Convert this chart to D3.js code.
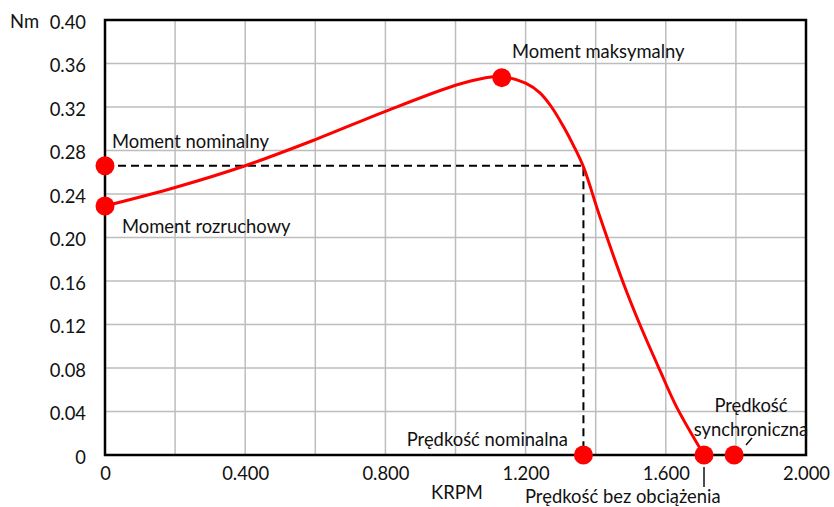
<!DOCTYPE html>
<html><head><meta charset="utf-8">
<script src="https://cdn.jsdelivr.net/npm/d3@7"></script>
<style>
body{margin:0;background:#fff;}
text{font-family:Lato,"Open Sans",sans-serif;fill:#111;}
</style></head>
<body><svg id="c" width="834" height="507"></svg>
<script>
// Torque curve (KRPM, Nm)
const curveX = [0, 0.2, 0.4, 0.6, 0.8, 1.0, 1.08, 1.132, 1.2, 1.241, 1.274, 1.308, 1.336, 1.365, 1.412, 1.479, 1.526, 1.583, 1.631, 1.709];
const curveY = [0.229, 0.246, 0.266, 0.290, 0.316, 0.340, 0.3465, 0.348, 0.342, 0.333, 0.320, 0.302, 0.285, 0.265, 0.219, 0.158, 0.12, 0.078, 0.044, 0];
// Marked points
const pointNames = ["Moment rozruchowy", "Moment nominalny", "Moment maksymalny", "Prędkość nominalna", "Prędkość bez obciążenia", "Prędkość synchroniczna"];
const pointX = [0, 0, 1.132, 1.365, 1.709, 1.795];
const pointY = [0.229, 0.266, 0.347, 0, 0, 0];
// Nominal operating point
const nominalX = 1.365, nominalY = 0.266;
// Axes
const xTicks = [0, 0.4, 0.8, 1.2, 1.6, 2.0];
const xTickLabels = ["0", "0.400", "0.800", "1.200", "1.600", "2.000"];
const xGrid = [0.2, 0.4, 0.6, 0.8, 1.0, 1.2, 1.4, 1.6, 1.8];
const yTicks = [0, 0.04, 0.08, 0.12, 0.16, 0.20, 0.24, 0.28, 0.32, 0.36, 0.40];
const yTickLabels = ["0", "0.04", "0.08", "0.12", "0.16", "0.20", "0.24", "0.28", "0.32", "0.36", "0.40"];
const xTitle = "KRPM", yTitle = "Nm";

const FS = 18.4;
const svg = d3.select("#c");
const L = 105, R = 806, T = 20, B = 455;
const x = d3.scaleLinear().domain([0, 2]).range([L, R]);
const y = d3.scaleLinear().domain([0, 0.4]).range([B, T]);

// grid
svg.append("g").selectAll("line").data(xGrid).join("line")
  .attr("x1", d => x(d)).attr("x2", d => x(d)).attr("y1", T).attr("y2", B)
  .attr("stroke", "#bdbdbd").attr("stroke-width", 1.5);
svg.append("g").selectAll("line").data(yTicks.slice(1, -1)).join("line")
  .attr("x1", L).attr("x2", R).attr("y1", d => y(d)).attr("y2", d => y(d))
  .attr("stroke", "#bdbdbd").attr("stroke-width", 1.5);

// frame
svg.append("rect").attr("x", L).attr("y", T).attr("width", R - L).attr("height", B - T)
  .attr("fill", "none").attr("stroke", "#000").attr("stroke-width", 2.5);

// axes labels via d3 axes
const xAxis = d3.axisBottom(x).tickValues(xTicks).tickFormat((d, i) => xTickLabels[i]).tickSize(0).tickPadding(12);
const gx = svg.append("g").attr("transform", `translate(0,${B})`).call(xAxis);
gx.select(".domain").remove();
gx.selectAll("text").attr("font-family", "Lato, sans-serif").attr("font-size", FS).attr("fill", "#111");

const yAxis = d3.axisLeft(y).tickValues(yTicks).tickFormat((d, i) => yTickLabels[i]).tickSize(0).tickPadding(19);
const gy = svg.append("g").attr("transform", `translate(${L},0)`).call(yAxis);
gy.select(".domain").remove();
gy.selectAll("text").attr("font-family", "Lato, sans-serif").attr("font-size", FS).attr("fill", "#111").attr("dy", "0.45em");

svg.append("text").attr("x", 10).attr("y", y(0.4)).attr("dy", "0.45em").attr("font-size", FS).text(yTitle);
svg.append("text").attr("x", 457).attr("y", 493).attr("dy", "0.35em").attr("text-anchor", "middle").attr("font-size", FS).text(xTitle);

// dashed nominal lines
svg.append("path")
  .attr("d", `M${x(0)},${y(nominalY)}H${x(nominalX)}V${y(0)}`)
  .attr("fill", "none").attr("stroke", "#000").attr("stroke-width", 2).attr("stroke-dasharray", "8,5");

// curve
const data = curveX.map((d, i) => [d, curveY[i]]);
svg.append("path").datum(data)
  .attr("d", d3.line().x(d => x(d[0])).y(d => y(d[1])).curve(d3.curveCatmullRom.alpha(0.5)))
  .attr("fill", "none").attr("stroke", "#ff0000").attr("stroke-width", 3);

// points
svg.append("g").selectAll("circle").data(pointX).join("circle")
  .attr("cx", d => x(d)).attr("cy", (d, i) => y(pointY[i])).attr("r", 9.5).attr("fill", "#ff0000");

// leader lines
svg.append("line").attr("x1", x(pointX[4])).attr("x2", x(pointX[4])).attr("y1", 467).attr("y2", 487).attr("stroke", "#111").attr("stroke-width", 1.5);
svg.append("line").attr("x1", 746).attr("x2", 752).attr("y1", 445).attr("y2", 438).attr("stroke", "#111").attr("stroke-width", 1.5);

// annotations
const ann = svg.append("g").attr("font-size", FS);
ann.append("text").attr("x", 122).attr("y", 226.5).attr("dy", "0.35em").text(pointNames[0]);
ann.append("text").attr("x", 112).attr("y", 141.5).attr("dy", "0.35em").text(pointNames[1]);
ann.append("text").attr("x", 512).attr("y", 51.5).attr("dy", "0.35em").text(pointNames[2]);
ann.append("text").attr("x", 568).attr("y", 440).attr("dy", "0.35em").attr("text-anchor", "end").text(pointNames[3]);
ann.append("text").attr("x", 525).attr("y", 497).attr("dy", "0.35em").text(pointNames[4]);
const syncWords = pointNames[5].split(" ");
ann.append("text").attr("x", 751).attr("y", 406).attr("dy", "0.35em").attr("text-anchor", "middle").text(syncWords[0]);
ann.append("text").attr("x", 751).attr("y", 430).attr("dy", "0.35em").attr("text-anchor", "middle").text(syncWords[1]);
</script></body></html>
